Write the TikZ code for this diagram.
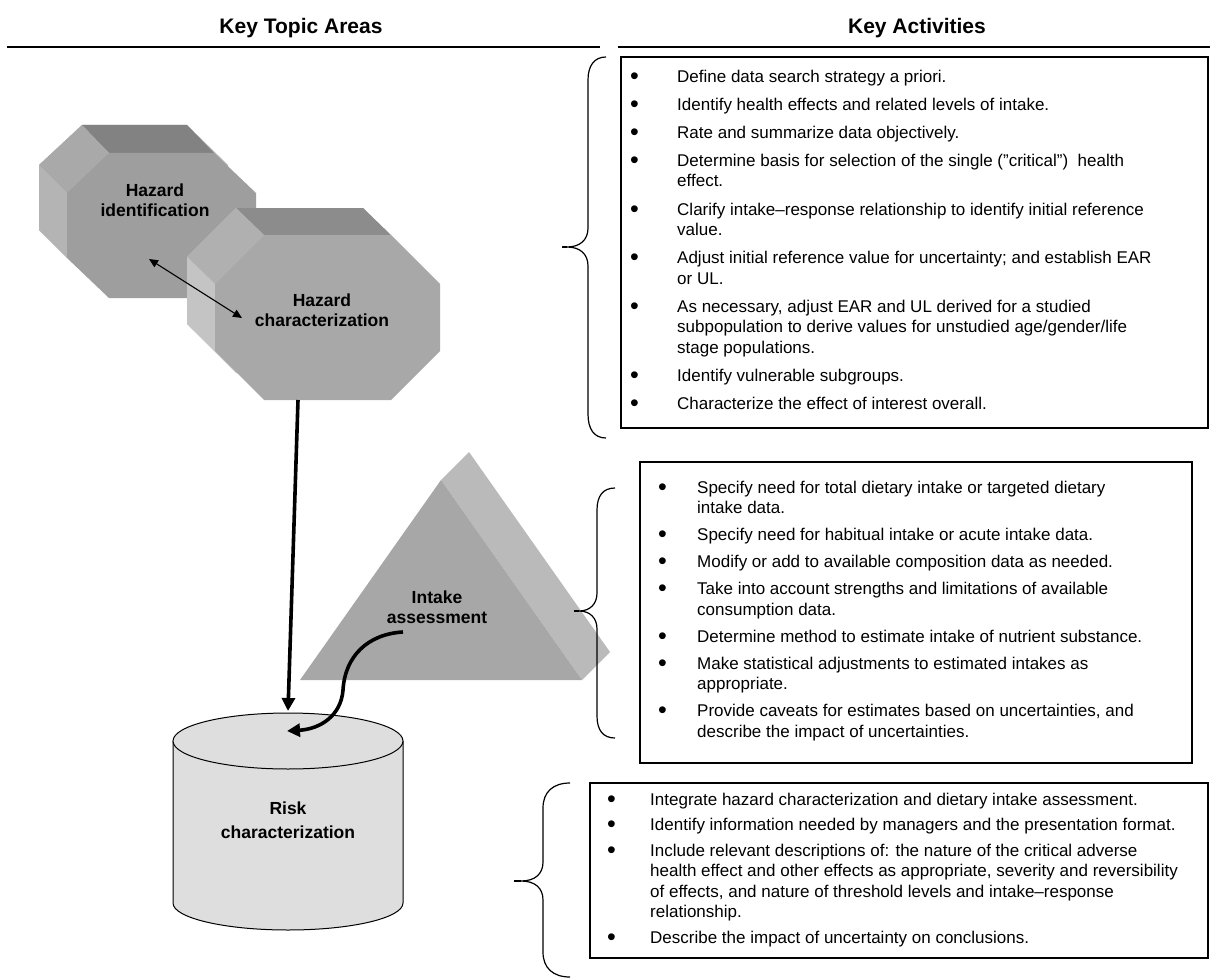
\documentclass[tikz,border=0pt]{standalone}
\usepackage{fontspec}
\setmainfont{Liberation Sans}
\usetikzlibrary{arrows.meta}
\definecolor{oAtop}{HTML}{828282}
\definecolor{oAul}{HTML}{A9A9A9}
\definecolor{oAleft}{HTML}{B4B4B4}
\definecolor{oAfront}{HTML}{9E9E9E}
\definecolor{oBtop}{HTML}{8C8C8C}
\definecolor{oBul}{HTML}{B0B0B0}
\definecolor{oBleft}{HTML}{C4C4C4}
\definecolor{oBfront}{HTML}{A8A8A8}
\definecolor{trfrontc}{HTML}{A7A7A7}
\definecolor{trsidec}{HTML}{BABABA}
\definecolor{cylc}{HTML}{DEDEDE}
\newcommand\bodyfont{\fontsize{17}{20.5}\selectfont}
\newcommand\lblfont{\bfseries\fontsize{17.5}{20.5}\selectfont}
\newcommand\hdrfont{\bfseries\fontsize{21}{24}\selectfont}
\newcommand\bu[1]{\makebox[#1][l]{\hspace*{-1pt}\raisebox{-2.2pt}{\fontsize{25}{20}\selectfont\textbullet}}}
\newcommand\ct[1]{\hspace*{#1}}
\begin{document}
\begin{tikzpicture}[x=1pt,y=-1pt,
  hdr/.style={font=\hdrfont, inner sep=0pt},
  lbl/.style={font=\lblfont, align=center, inner sep=0pt},
  acts/.style={anchor=north west, inner sep=0pt, align=left, font=\bodyfont},
  rulel/.style={draw=black, line width=2pt},
  actbox/.style={draw=black, line width=1.3pt},
  brc/.style={draw=black, line width=1.2pt},
  tinyarrow/.style={draw=black, line width=1.1pt, {Triangle[length=9pt,width=8pt]}-{Triangle[length=9pt,width=8pt]}},
  bigarrow/.style={draw=black, line width=3.6pt, -{Triangle[length=13pt,width=13pt]}},
  cylline/.style={draw=black, line width=1pt}
]
\useasboundingbox[fill=white] (0,0) rectangle (1210,979);

% headers
\node[hdr, anchor=base] (hdrL) at (301,34) {Key Topic Areas};
\node[hdr, anchor=base] (hdrR) at (917,34) {Key Activities};
\draw[rulel] (7,47) -- (600,47);
\draw[rulel] (618,47) -- (1210,47);

% octagon 1 (Hazard identification)
\fill[oAleft] (82,125) -- (187,125) -- (228,165) -- (228,230) -- (186,270) -- (81,270) -- (39,230) -- (39,165) -- cycle;
\fill[oAtop] (82,125) -- (187,125) -- (214,153) -- (109,153) -- cycle;
\fill[oAul] (82,125) -- (109,153) -- (67,193) -- (39,165) -- cycle;
\fill[oAleft] (39,165) -- (67,193) -- (67,258) -- (39,230) -- cycle;
\fill[oAfront] (109,153) -- (214,153) -- (256,193) -- (256,258) -- (214,298) -- (109,298) -- (67,258) -- (67,193) -- cycle;

% octagon 2 (Hazard characterization)
\fill[oBleft] (236,208) -- (363,208) -- (412,257) -- (412,324) -- (363,373) -- (236,373) -- (187,324) -- (187,257) -- cycle;
\fill[oBtop] (236,208) -- (363,208) -- (391,235) -- (264,235) -- cycle;
\fill[oBul] (236,208) -- (264,235) -- (215,284) -- (187,257) -- cycle;
\fill[oBleft] (187,257) -- (215,284) -- (215,351) -- (187,324) -- cycle;
\fill[oBfront] (264,235) -- (391,235) -- (440,284) -- (440,351) -- (391,400) -- (264,400) -- (215,351) -- (215,284) -- cycle;

% triangle (Intake assessment)
\fill[trsidec] (441,480) -- (469,452) -- (610,652) -- (582,680) -- cycle;
\fill[trfrontc] (300,680) -- (582,680) -- (441,480) -- cycle;

% cylinder (Risk characterization)
\fill[cylc] (173,741) -- (173,903) arc[start angle=180, end angle=0, x radius=115, y radius=27] -- (403,741) -- cycle;
\draw[cylline] (173,741) -- (173,903) arc[start angle=180, end angle=0, x radius=115, y radius=27] -- (403,741);
\filldraw[cylline, fill=cylc] (288,741) ellipse [x radius=115, y radius=28];

% labels
\node[lbl] (hi) at (155,200) {Hazard\\identification};
\node[lbl] (hc) at (322,310) {Hazard\\characterization};
\node[lbl] (ia) at (437,607) {Intake\\assessment};
\node[lbl] (rc) at (288,820) {Risk\\[3pt]characterization};

% connector end points
\coordinate (hiA) at (149,259);
\coordinate (hcA) at (242,318);
\coordinate (hcB) at (298,400);
\coordinate (rcA) at (288,711);
\coordinate (iaA) at (403,632);
\coordinate (rcB) at (287,731);

\draw[tinyarrow] (hiA) -- (hcA);
\draw[bigarrow] (hcB) -- (rcA);
\draw[bigarrow] (iaA) .. controls (368,634) and (345,656) .. (343,690) .. controls (341,716) and (320,729) .. (rcB);

% boxes
\draw[actbox] (621,57) rectangle (1208,428);
\draw[actbox] (640,462) rectangle (1192,763);
\draw[actbox] (590,783) rectangle (1208,958);

% braces
\draw[brc] (606,57) .. controls (594,57) and (588,66) .. (588,80) -- (588,228) .. controls (588,240) and (580,247) .. (567,247) .. controls (580,247) and (588,254) .. (588,266) -- (588,414) .. controls (588,429) and (594,438) .. (606,438);
\draw[black, line width=2.2pt] (567,247) -- (562,247);
\draw[brc] (615,488) .. controls (603,488) and (597,496) .. (597,510) -- (597,593) .. controls (597,604) and (590,611) .. (579,611) .. controls (590,611) and (597,618) .. (597,629) -- (597,716) .. controls (597,730) and (603,738) .. (615,738);
\draw[black, line width=2.2pt] (579,611) -- (574,611);
\draw[brc] (570,783) .. controls (553,783) and (543,792) .. (543,808) -- (543,862) .. controls (543,874) and (535,881) .. (521,881) .. controls (535,881) and (543,888) .. (543,900) -- (543,952) .. controls (543,968) and (553,977) .. (570,977);
\draw[black, line width=2.2pt] (521,881) -- (514,881);

% activity texts
\node[acts] (act1) at (631,69.6) {%
\bu{46pt}Define data search strategy a priori.\\[7.6pt]
\bu{46pt}Identify health effects and related levels of intake.\\[7.6pt]
\bu{46pt}Rate and summarize data objectively.\\[7.6pt]
\bu{46pt}Determine basis for selection of the single ("critical")\ \ health\\
\ct{46pt}effect.\\[7.6pt]
\bu{46pt}Clarify intake--response relationship to identify initial reference\\
\ct{46pt}value.\\[7.6pt]
\bu{46pt}Adjust initial reference value for uncertainty; and establish EAR\\
\ct{46pt}or UL.\\[7.6pt]
\bu{46pt}As necessary, adjust EAR and UL derived for a studied\\
\ct{46pt}subpopulation to derive values for unstudied age/gender/life\\
\ct{46pt}stage populations.\\[7.6pt]
\bu{46pt}Identify vulnerable subgroups.\\[7.6pt]
\bu{46pt}Characterize the effect of interest overall.};

\node[acts] (act2) at (659,480.6) {%
\bu{38pt}Specify need for total dietary intake or targeted dietary\\
\ct{38pt}intake data.\\[6.5pt]
\bu{38pt}Specify need for habitual intake or acute intake data.\\[6.5pt]
\bu{38pt}Modify or add to available composition data as needed.\\[6.5pt]
\bu{38pt}Take into account strengths and limitations of available\\
\ct{38pt}consumption data.\\[6.5pt]
\bu{38pt}Determine method to estimate intake of nutrient substance.\\[6.5pt]
\bu{38pt}Make statistical adjustments to estimated intakes as\\
\ct{38pt}appropriate.\\[6.5pt]
\bu{38pt}Provide caveats for estimates based on uncertainties, and\\
\ct{38pt}describe the impact of uncertainties.};

\node[acts] (act3) at (608,792.6) {%
\bu{42pt}Integrate hazard characterization and dietary intake assessment.\\[5pt]
\bu{42pt}Identify information needed by managers and the presentation format.\\[5pt]
\bu{42pt}Include relevant descriptions of: the nature of the critical adverse\\
\ct{42pt}health effect and other effects as appropriate, severity and reversibility\\
\ct{42pt}of effects, and nature of threshold levels and intake--response\\
\ct{42pt}relationship.\\[5pt]
\bu{42pt}Describe the impact of uncertainty on conclusions.};
\end{tikzpicture}
\end{document}
